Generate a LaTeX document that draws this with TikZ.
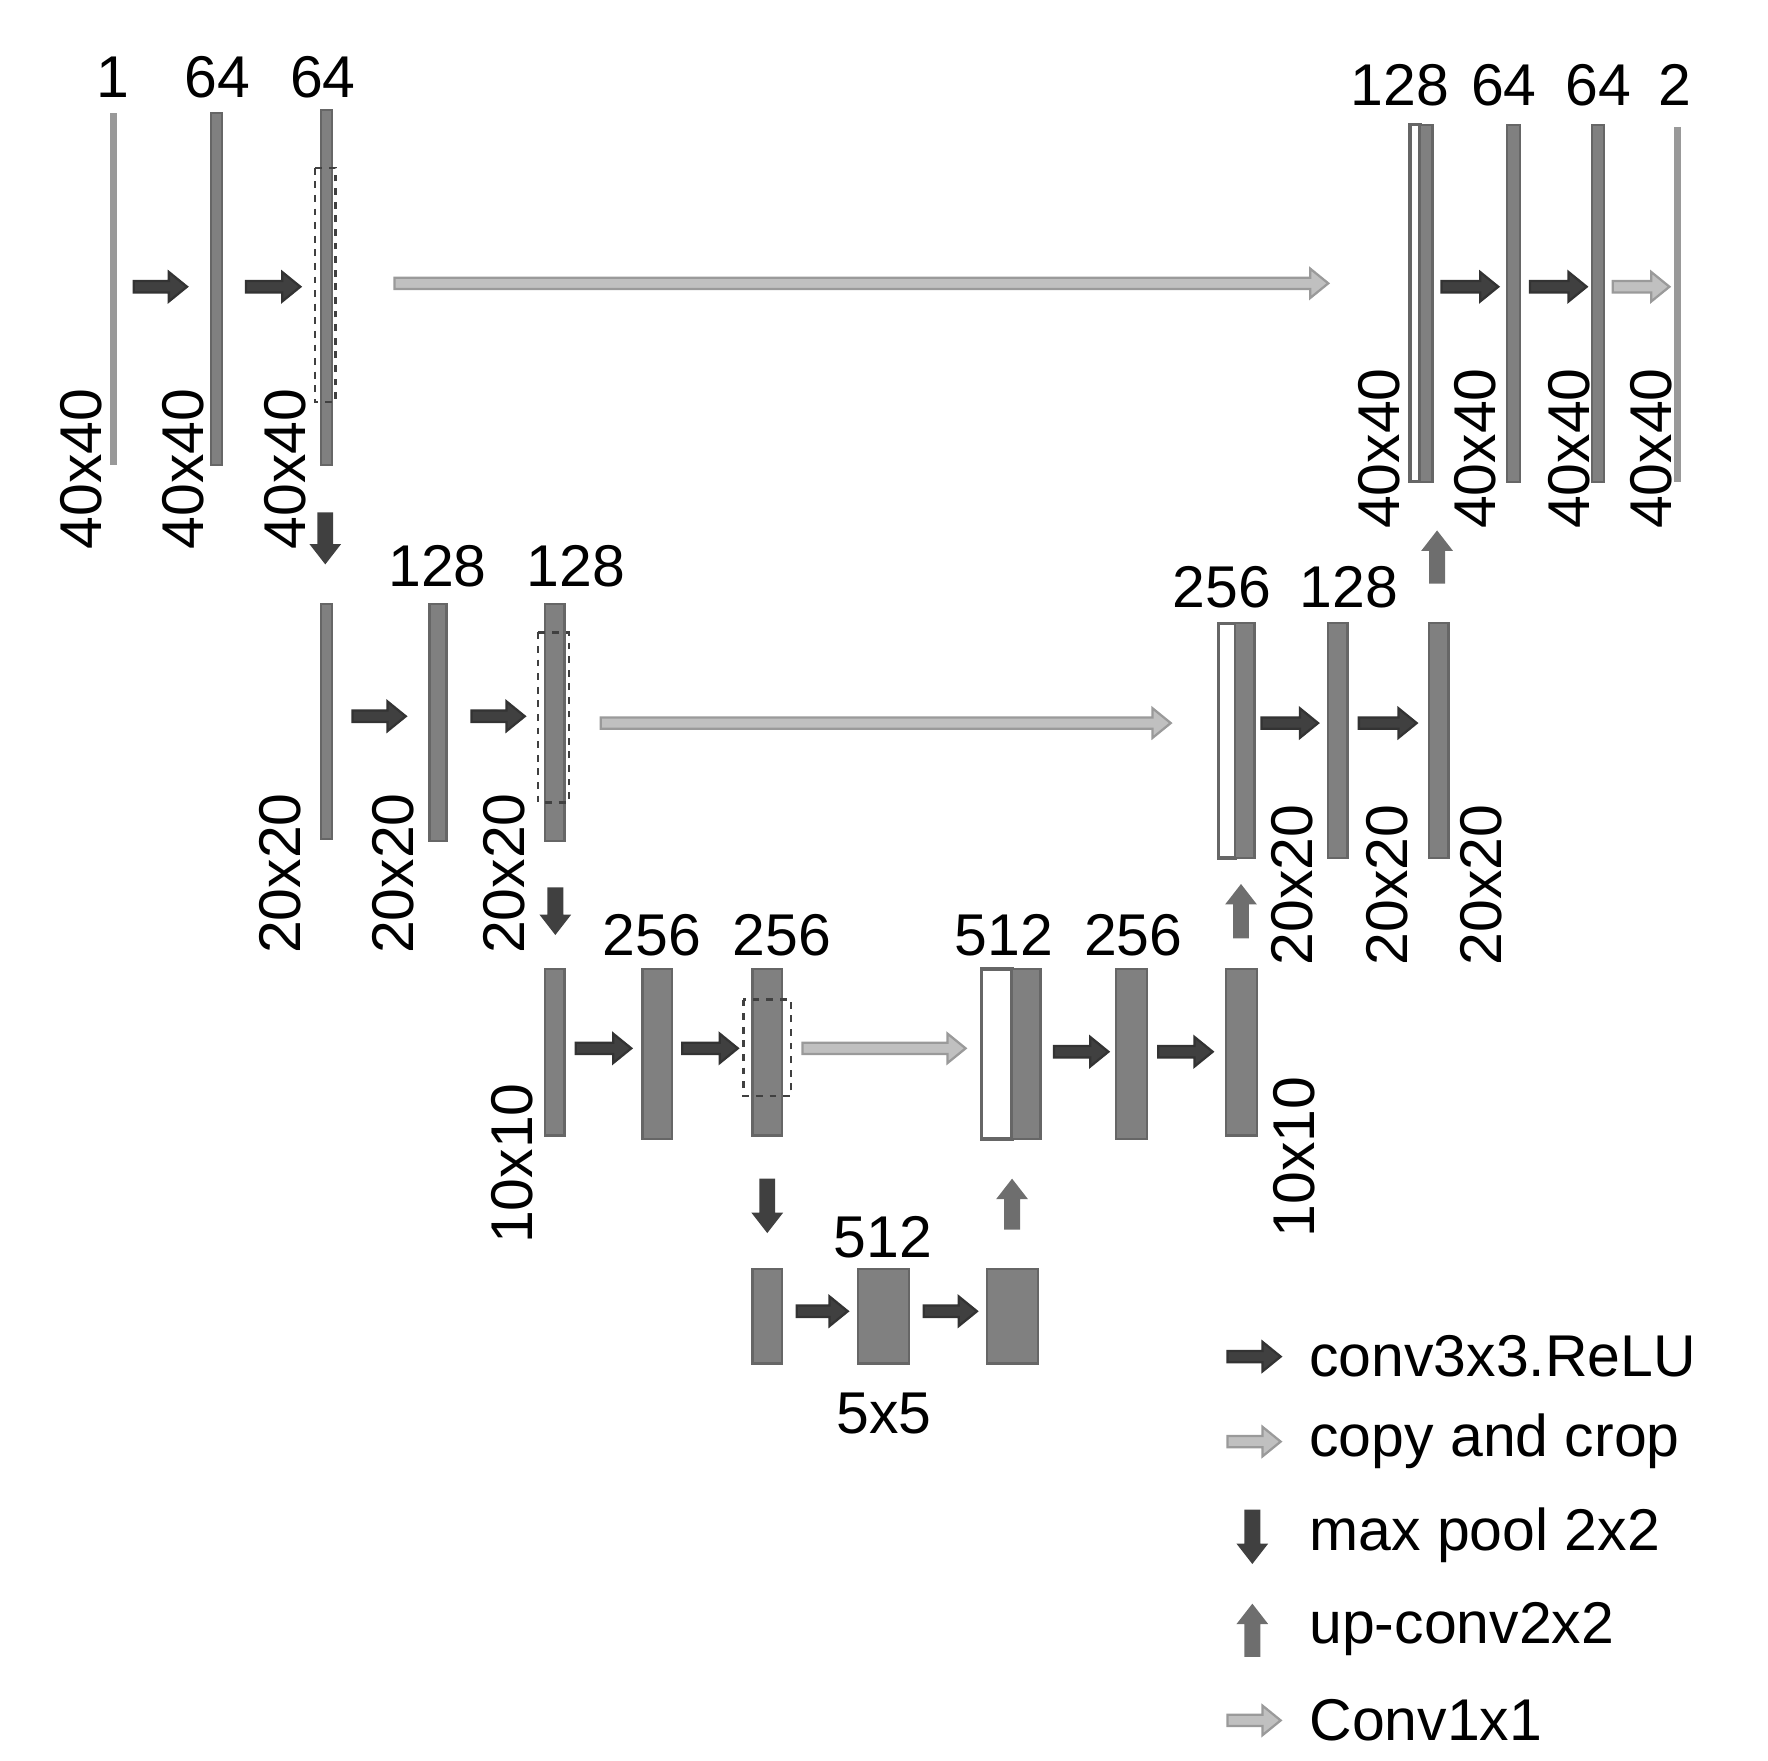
\documentclass[tikz,border=0pt]{standalone}
\usepackage{fontspec}
\setmainfont{Liberation Sans}
\definecolor{barc}{HTML}{808080}
\definecolor{dk}{HTML}{404040}
\definecolor{lt}{HTML}{C0C0C0}
\definecolor{upc}{HTML}{6E6E6E}
\tikzset{
  bar/.style={fill=barc,draw=barc!80!black,line width=1},
  wbar/.style={fill=white,draw=barc!80!black,line width=1.5},
  thin/.style={draw=barc!80!white,line width=3},
  crop/.style={draw=dk,dashed,line width=1},
  lbl/.style={font=\fontsize{26}{30}\selectfont,inner sep=0},
  rlbl/.style={lbl,rotate=90,anchor=west},
}
\newcommand{\harr}[4]{\fill[#4,draw=#4!80!black,line width=1] (#1,#3-5) -- (#2-16,#3-5) -- (#2-16,#3-13) -- (#2,#3) -- (#2-16,#3+13) -- (#2-16,#3+5) -- (#1,#3+5) -- cycle;}
\newcommand{\darr}[4]{\fill[#4] (#1-7,#2) -- (#1-7,#3-18) -- (#1-14,#3-18) -- (#1,#3) -- (#1+14,#3-18) -- (#1+7,#3-18) -- (#1+7,#2) -- cycle;}
\newcommand{\uarr}[4]{\fill[#4] (#1-7,#3) -- (#1-7,#2+18) -- (#1-14,#2+18) -- (#1,#2) -- (#1+14,#2+18) -- (#1+7,#2+18) -- (#1+7,#3) -- cycle;}
\begin{document}
\begin{tikzpicture}[x=0.5pt,y=-0.5pt]
\useasboundingbox (0,0) rectangle (1560,1553);
% row 1 left
\draw[thin] (100,100) -- (100,410);
\draw[bar] (186,100) rectangle (196,410);
\draw[bar] (283,97) rectangle (293,410);
\draw[crop] (278,148) rectangle (296,355);
\node[lbl] at (100,68) {1};
\node[lbl] at (192,68) {64};
\node[lbl] at (285,68) {64};
\node[rlbl] at (72,485) {40x40};
\node[rlbl] at (162,485) {40x40};
\node[rlbl] at (252,485) {40x40};
\harr{118}{165}{253}{dk}
\harr{217}{265}{253}{dk}
\harr{348}{1172}{250}{lt}
\darr{287}{452}{498}{dk}
% row 2 left
\draw[bar] (283,533) rectangle (293,740);
\draw[bar] (379,533) rectangle (394,742);
\draw[bar] (481,533) rectangle (498,742);
\draw[crop] (475,558) rectangle (502,708);
\node[lbl] at (386,500) {128};
\node[lbl] at (508,500) {128};
\node[rlbl] at (247,842) {20x20};
\node[rlbl] at (347,842) {20x20};
\node[rlbl] at (445,842) {20x20};
\harr{311}{358}{632}{dk}
\harr{416}{463}{632}{dk}
\harr{530}{1033}{638}{lt}
\darr{490}{783}{825}{dk}
% row 3
\draw[bar] (481,855) rectangle (498,1002);
\draw[bar] (567,855) rectangle (593,1005);
\draw[bar] (664,855) rectangle (690,1002);
\draw[crop] (656,882) rectangle (698,967);
\node[lbl] at (575,825) {256};
\node[lbl] at (690,825) {256};
\node[rlbl] at (452,1098) {10x10};
\harr{508}{557}{925}{dk}
\harr{602}{651}{925}{dk}
\harr{708}{852}{925}{lt}
\draw[wbar] (866,855) rectangle (893,1005);
\draw[bar] (893,855) rectangle (918,1005);
\node[lbl] at (886,825) {512};
\node[lbl] at (1000,825) {256};
\draw[bar] (985,855) rectangle (1012,1005);
\draw[bar] (1082,855) rectangle (1109,1002);
\harr{930}{978}{928}{dk}
\harr{1022}{1070}{928}{dk}
\node[rlbl] at (1142,1092) {10x10};
\uarr{1095}{780}{828}{upc}
\darr{677}{1040}{1088}{dk}
% row 4
\draw[bar] (664,1120) rectangle (690,1203);
\draw[bar] (757,1120) rectangle (802,1203);
\draw[bar] (871,1120) rectangle (916,1203);
\node[lbl] at (779,1092) {512};
\node[lbl] at (780,1247) {5x5};
\harr{703}{748}{1157}{dk}
\harr{815}{862}{1157}{dk}
\uarr{893}{1040}{1085}{upc}
% row 2 right
\draw[wbar] (1075,550) rectangle (1090,757);
\draw[bar] (1090,550) rectangle (1107,757);
\draw[bar] (1172,550) rectangle (1189,757);
\draw[bar] (1261,550) rectangle (1278,757);
\node[lbl] at (1078,518) {256};
\node[lbl] at (1190,518) {128};
\harr{1113}{1163}{638}{dk}
\harr{1199}{1250}{638}{dk}
\node[rlbl] at (1140,852) {20x20};
\node[rlbl] at (1224,852) {20x20};
\node[rlbl] at (1307,852) {20x20};
\uarr{1268}{468}{515}{upc}
% row 1 right
\draw[wbar] (1244,110) rectangle (1253,425);
\draw[bar] (1253,110) rectangle (1264,425);
\draw[bar] (1330,110) rectangle (1341,425);
\draw[bar] (1405,110) rectangle (1415,425);
\draw[thin] (1480,112) -- (1480,425);
\node[lbl] at (1235,75) {128};
\node[lbl] at (1327,75) {64};
\node[lbl] at (1410,75) {64};
\node[lbl] at (1478,75) {2};
\harr{1272}{1322}{253}{dk}
\harr{1350}{1400}{253}{dk}
\harr{1423}{1473}{253}{lt}
\node[rlbl] at (1217,467) {40x40};
\node[rlbl] at (1302,467) {40x40};
\node[rlbl] at (1385,467) {40x40};
\node[rlbl] at (1457,467) {40x40};
% legend
\harr{1083}{1130}{1197}{dk}
\harr{1083}{1130}{1272}{lt}
\darr{1105}{1332}{1380}{dk}
\uarr{1105}{1415}{1462}{upc}
\harr{1083}{1130}{1518}{lt}
\node[lbl,anchor=west] at (1155,1197) {conv3x3.ReLU};
\node[lbl,anchor=west] at (1155,1272) {copy and crop};
\node[lbl,anchor=west] at (1155,1355) {max pool 2x2};
\node[lbl,anchor=west] at (1155,1437) {up-conv2x2};
\node[lbl,anchor=west] at (1155,1518) {Conv1x1};
\end{tikzpicture}
\end{document}
